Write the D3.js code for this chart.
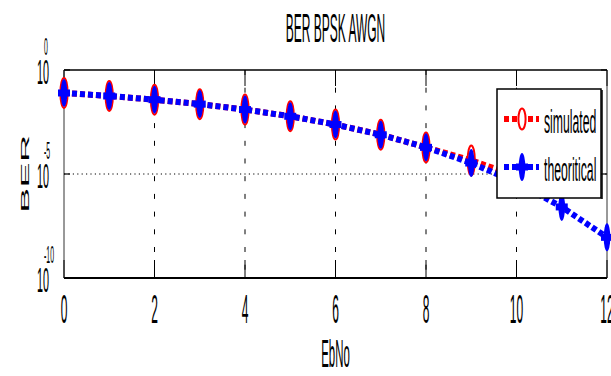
<!DOCTYPE html>
<html lang="en">
<head>
<meta charset="UTF-8">
<title>BER BPSK AWGN</title>
<style>
  body { margin: 0; background: #fff; }
  svg { display: block; }
  text { font-family: "Liberation Sans", Arial, sans-serif; fill: #000; }
</style>
</head>
<body>
<svg width="611" height="376"></svg>
<script src="https://d3js.org/d3.v7.min.js"></script>
<script>
// data
const ebno = [0, 1, 2, 3, 4, 5, 6, 7, 8, 9, 10, 11, 12];
const simulated = [0.0787, 0.0562, 0.0374, 0.0228, 0.0125, 0.00599, 0.00238, 7.8e-4, 1.9e-4, 4.5e-5, 8e-6];
const theoretical = [0.0786, 0.0563, 0.0375, 0.0229, 0.0125, 0.00595, 0.00239, 7.7e-4, 1.91e-4, 3.36e-5, 3.87e-6, 2.61e-7, 9.0e-9];
const xTicks = [0, 2, 4, 6, 8, 10, 12];
const yTicks = [1, 1e-5, 1e-10];
const yTickExp = ["0", "-5", "-10"];
const legendNames = ["simulated", "theoritical"];

const sx = 0.3; // the whole figure is squeezed horizontally
const svg = d3.select("svg");

const x = d3.scaleLinear().domain([0, 12]).range([64, 607]);
const y = d3.scaleLog().domain([1, 1e-10]).range([70, 278]);

// grid
svg.append("g").selectAll("line")
  .data(xTicks.slice(1, -1))
  .enter().append("line")
  .attr("x1", d => x(d)).attr("x2", d => x(d))
  .attr("y1", y(1)).attr("y2", y(1e-10))
  .attr("stroke", "#000").attr("stroke-width", 1)
  .attr("stroke-dasharray", "5,12.7");
svg.append("line")
  .attr("x1", x(0)).attr("x2", x(12))
  .attr("y1", y(1e-5)).attr("y2", y(1e-5))
  .attr("stroke", "#000").attr("stroke-width", 1)
  .attr("stroke-dasharray", "1.2,3.2");

// axes box and ticks
const axisG = svg.append("g");
axisG.append("line").attr("x1", x(0)).attr("x2", x(12)).attr("y1", y(1e-10)).attr("y2", y(1e-10))
  .attr("stroke", "#000").attr("stroke-width", 2);
axisG.append("line").attr("x1", x(0)).attr("x2", x(12)).attr("y1", y(1)).attr("y2", y(1))
  .attr("stroke", "#000").attr("stroke-width", 1.5);
axisG.append("line").attr("x1", x(0)).attr("x2", x(0)).attr("y1", y(1)).attr("y2", y(1e-10))
  .attr("stroke", "#333").attr("stroke-width", 1);
axisG.append("line").attr("x1", x(12)).attr("x2", x(12)).attr("y1", y(1)).attr("y2", y(1e-10))
  .attr("stroke", "#333").attr("stroke-width", 1);

xTicks.forEach(t => {
  axisG.append("line").attr("x1", x(t)).attr("x2", x(t)).attr("y1", y(1e-10)).attr("y2", y(1e-10) - 18)
    .attr("stroke", "#000").attr("stroke-width", 1);
  axisG.append("line").attr("x1", x(t)).attr("x2", x(t)).attr("y1", y(1)).attr("y2", y(1) + 16)
    .attr("stroke", "#000").attr("stroke-width", 1);
  axisG.append("text")
    .attr("transform", `translate(${x(t)},${y(1e-10) + 45}) scale(${sx},1)`)
    .attr("text-anchor", "middle").attr("font-size", 40)
    .text(t);
});
yTicks.forEach((t, i) => {
  axisG.append("line").attr("x1", x(0)).attr("x2", x(0) + 6).attr("y1", y(t)).attr("y2", y(t))
    .attr("stroke", "#000").attr("stroke-width", 1.2);
  axisG.append("line").attr("x1", x(12)).attr("x2", x(12) - 6).attr("y1", y(t)).attr("y2", y(t))
    .attr("stroke", "#000").attr("stroke-width", 1.2);
  axisG.append("text")
    .attr("transform", `translate(49,${y(t) + 14}) scale(${sx},1)`)
    .attr("text-anchor", "end").attr("font-size", 36)
    .text("10");
  axisG.append("text")
    .attr("transform", `translate(44,${y(t) - 15}) scale(${sx},1)`)
    .attr("text-anchor", "start").attr("font-size", 23)
    .text(yTickExp[i]);
});

// series
const line = d3.line().x((d, i) => x(ebno[i])).y(d => y(d));

function simMarker(g, cx, cy, ry) {
  g.append("ellipse").attr("cx", cx).attr("cy", cy).attr("rx", 3.6).attr("ry", ry)
    .attr("fill", "#fff").attr("stroke", "#ff0000").attr("stroke-width", 2);
}
function theoMarker(g, cx, cy) {
  g.append("ellipse").attr("cx", cx).attr("cy", cy).attr("rx", 3.3).attr("ry", 14)
    .attr("fill", "#0000ff");
  g.append("rect").attr("x", cx - 6).attr("y", cy - 3.5).attr("width", 12).attr("height", 7)
    .attr("fill", "#0000ff");
}

const simG = svg.append("g");
simG.append("path").datum(simulated).attr("d", line)
  .attr("fill", "none").attr("stroke", "#ff0000").attr("stroke-width", 6)
  .attr("stroke-dasharray", "5,3");
simulated.forEach((d, i) => simMarker(simG, x(ebno[i]), y(d), 15));

const theoG = svg.append("g");
theoG.append("path").datum(theoretical).attr("d", line)
  .attr("fill", "none").attr("stroke", "#0000ff").attr("stroke-width", 6)
  .attr("stroke-dasharray", "5,3");
theoretical.forEach((d, i) => theoMarker(theoG, x(ebno[i]), y(d)));

// legend
const leg = svg.append("g");
leg.append("rect").attr("x", 497).attr("y", 89).attr("width", 104).attr("height", 109)
  .attr("fill", "#fff").attr("stroke", "#000").attr("stroke-width", 1.5);
leg.append("line").attr("x1", 602).attr("x2", 602).attr("y1", 90).attr("y2", 199)
  .attr("stroke", "#000").attr("stroke-width", 1.5);
const legY = [119, 167];
legendNames.forEach((name, i) => {
  leg.append("line").attr("x1", 504).attr("x2", 539).attr("y1", legY[i]).attr("y2", legY[i])
    .attr("stroke", i === 0 ? "#ff0000" : "#0000ff").attr("stroke-width", 6)
    .attr("stroke-dasharray", "5,3");
  if (i === 0) simMarker(leg, 522, legY[i], 10.5);
  else theoMarker(leg, 522, legY[i]);
  leg.append("text")
    .attr("transform", `translate(544,${legY[i] + 14}) scale(0.36,1)`)
    .attr("font-size", 34)
    .text(name);
});

// titles
svg.append("text")
  .attr("transform", `translate(${(x(0) + x(12)) / 2},42) scale(${sx},1)`)
  .attr("text-anchor", "middle").attr("font-size", 40)
  .text("BER BPSK AWGN");
svg.append("text")
  .attr("transform", `translate(${(x(0) + x(12)) / 2},367) scale(${sx},1)`)
  .attr("text-anchor", "middle").attr("font-size", 38)
  .text("EbNo");
svg.append("text")
  .attr("transform", `translate(29,${y(1e-5)}) scale(0.3,1) rotate(-90)`)
  .attr("text-anchor", "middle").attr("font-size", 38)
  .text("BER");
</script>
</body>
</html>
